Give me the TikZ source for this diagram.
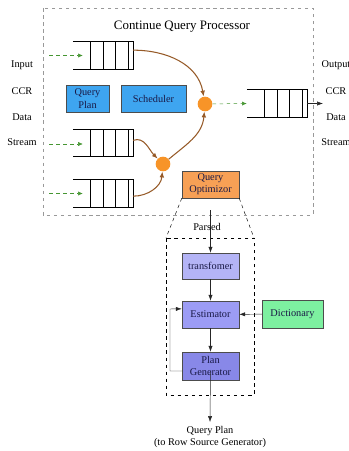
\documentclass[tikz,border=0pt]{standalone}
\usepackage{fontspec}
\setmainfont{Liberation Serif}
\usetikzlibrary{calc,arrows.meta}

\definecolor{flowbrown}{RGB}{150,90,40}
\definecolor{feedgreen}{RGB}{70,150,50}
\definecolor{dotorange}{RGB}{247,148,40}
\definecolor{optorange}{RGB}{247,160,85}
\definecolor{planblue}{RGB}{62,165,240}
\definecolor{lav1}{RGB}{180,180,246}
\definecolor{lav2}{RGB}{156,156,245}
\definecolor{lav3}{RGB}{136,136,232}
\definecolor{dictgreen}{RGB}{125,240,160}
\definecolor{inktext}{RGB}{25,25,70}

\begin{document}
\begin{tikzpicture}[x=0.03cm, y=-0.03cm,
    every node/.style={font=\fontsize{8.8}{10.5}\selectfont},
    queue/.style={minimum width=1.8cm, minimum height=0.81cm, inner sep=0},
    joint/.style={circle, fill=dotorange, minimum size=0.44cm, inner sep=0},
    box/.style={draw=black!70, align=center, inner sep=1pt, text=inktext},
    feed/.style={dashed, feedgreen, -{Latex[length=4pt,width=3.5pt]}},
    flow/.style={flowbrown, line width=0.9pt, -{Latex[length=5pt,width=4pt]}},
    link/.style={black!85, -{Latex[length=5pt,width=3.5pt]}}]

    \useasboundingbox (0,0) rectangle (349,451);

    % Continue query processor frame
    \draw[black!40, dashed] (43,8) rectangle (313,215);
    \node[font=\fontsize{11}{13}\selectfont] (title) at (182,27) {Continue Query Processor};

    % stream labels
    \foreach \t/\y in {Input/65, CCR/91, Data/117, Stream/142}
        \node at (22,\y) {\t};
    \foreach \t/\y in {Output/65, CCR/91, Data/117, Stream/142}
        \node at (336,\y) {\t};

    % queues
    \node[queue] (q1) at (103,55.5) {};
    \node[queue] (q2) at (103,143) {};
    \node[queue] (q3) at (103,193.5) {};
    \node[queue] (qo) at (277,103.5) {};
    \foreach \q in {q1,q2,q3,qo} {
        \draw[thick] (\q.north west) -- (\q.north east) -- (\q.south east) -- (\q.south west);
        \foreach \f in {0.3,0.5,0.71,0.92}
            \draw[thick] ($(\q.north west)!\f!(\q.north east)$) -- ($(\q.south west)!\f!(\q.south east)$);
    }

    % inputs
    \coordinate (in1) at (49,55.5);
    \coordinate (in2) at (49,144);
    \coordinate (in3) at (49,193.5);
    \draw[feed] (in1) -- ([xshift=0.3cm]q1.west);
    \draw[feed] (in2) -- ([xshift=0.3cm,yshift=-0.03cm]q2.west);
    \draw[feed] (in3) -- ([xshift=0.3cm]q3.west);

    % joins
    \node[joint] (jA) at (205,104) {};
    \node[joint] (jB) at (163,164) {};
    \draw[flow] ([yshift=0.16cm]q1.east) to[out=0, in=100] (jA);
    \draw[flow] ([yshift=0.08cm]q2.east) to[out=20, in=135] (jB);
    \draw[flow] ([yshift=-0.08cm]q3.east) to[out=0, in=-95] (jB);
    \draw[flow] (jB) to[out=40, in=-95] (jA);
    \draw[feed] (jA) -- (qo.west);
    \coordinate (out) at (323,103.5);
    \draw[link] (qo.east) -- (out);

    % plan and scheduler
    \node[box, fill=planblue, minimum width=1.29cm, minimum height=0.81cm] (plan) at (87.5,98.5) {Query\\Plan};
    \node[box, fill=planblue, minimum width=1.95cm, minimum height=0.81cm] (sched) at (153.5,98.5) {Scheduler};

    % optimizer
    \node[box, fill=optorange, minimum width=1.71cm, minimum height=0.81cm] (opt) at (210.5,184.5) {Query\\Optimizor};

    % optimizer detail
    \draw[dashed] (166,238) rectangle (254,395);
    \draw[dashed] (opt.south west) -- (166,238);
    \draw[dashed] (opt.south east) -- (254,238);

    \node[box, fill=lav1, minimum width=1.71cm, minimum height=0.78cm] (trans) at (210.5,266) {transfomer};
    \node[box, fill=lav2, minimum width=1.71cm, minimum height=0.81cm] (est) at (210.5,314.5) {Estimator};
    \node[box, fill=lav3, minimum width=1.71cm, minimum height=0.84cm] (gen) at (210.5,366) {Plan\\Generator};
    \node[box, fill=dictgreen, minimum width=1.83cm, minimum height=0.84cm] (dict) at (292.5,314) {Dictionary};

    \draw[link, shorten <=0.36cm] (opt.south -| trans) -- (trans.north);
    \node (parsed) at (207,227) {Parsed};
    \draw[link] (trans) -- (est);
    \draw[link] (est) -- (gen);
    \draw[link] (dict) -- (est);
    \draw[link] ([yshift=-0.15cm]gen.west) -| (170,309) -- ([yshift=0.17cm]est.west);

    % result
    \node[align=center] (qplan) at (210,437) {Query Plan\\(to Row Source Generator)};
    \draw[link] ([yshift=-0.15cm]gen.center) -- (qplan.north);
\end{tikzpicture}
\end{document}
